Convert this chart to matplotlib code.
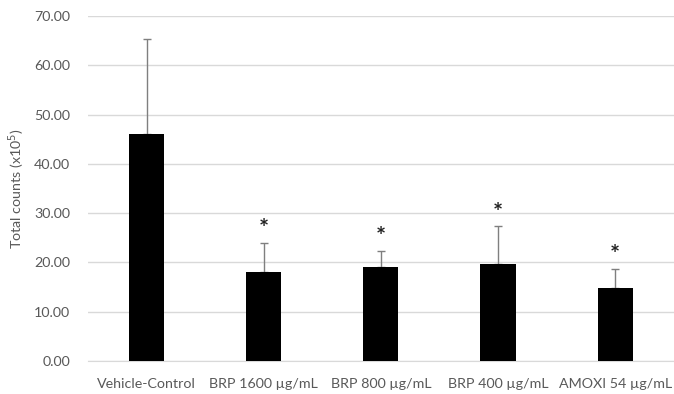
import matplotlib.pyplot as plt
import numpy as np

# values
groups = ['Vehicle-Control', 'BRP 1600 µg/mL', 'BRP 800 µg/mL', 'BRP 400 µg/mL', 'AMOXI 54 µg/mL']
means = [46.1, 18.0, 19.1, 19.6, 14.9]
sd = [19.2, 6.0, 3.3, 7.8, 3.8]
significant = [False, True, True, True, True]

plt.rcParams['font.family'] = ['Lato', 'DejaVu Sans']
grey = '#595959'

fig = plt.figure(figsize=(6.74, 3.94), dpi=100)
ax = fig.add_axes([0.1306, 0.0838, 0.869, 0.8756])

x = np.arange(len(groups))
ax.bar(x, means, width=0.3, color='black', zorder=3)
ax.errorbar(x, means, yerr=[np.zeros(len(sd)), sd], fmt='none', ecolor='#7f7f7f',
            elinewidth=1, capsize=3, capthick=1, zorder=2)

for xi, m, s, sig in zip(x, means, sd, significant):
    if sig:
        ax.annotate('*', (xi, m + s), xytext=(0, 1), textcoords='offset points',
                    ha='center', va='bottom', fontsize=17, fontweight='bold', color='#222222')

ax.set_xlim(-0.5, len(groups) - 0.5)
ax.set_ylim(0, 70)
ax.set_yticks(np.arange(0, 71, 10))
ax.set_yticklabels([f'{v:.2f}' for v in np.arange(0, 71, 10)])
ax.set_xticks(x)
ax.set_xticklabels(groups)
ax.yaxis.grid(True, color='#d9d9d9', linewidth=1, zorder=0)
ax.set_axisbelow(True)
for s in ['top', 'right', 'left']:
    ax.spines[s].set_visible(False)
ax.spines['bottom'].set_color('#d9d9d9')
ax.tick_params(axis='both', length=0, colors=grey, labelsize=10.3)
ax.tick_params(axis='x', pad=12)
ax.tick_params(axis='y', pad=13)
ax.set_ylabel('Total counts (x10$^5$)', color=grey, fontsize=10.3, labelpad=5)

fig.savefig('out.png', dpi=100)
